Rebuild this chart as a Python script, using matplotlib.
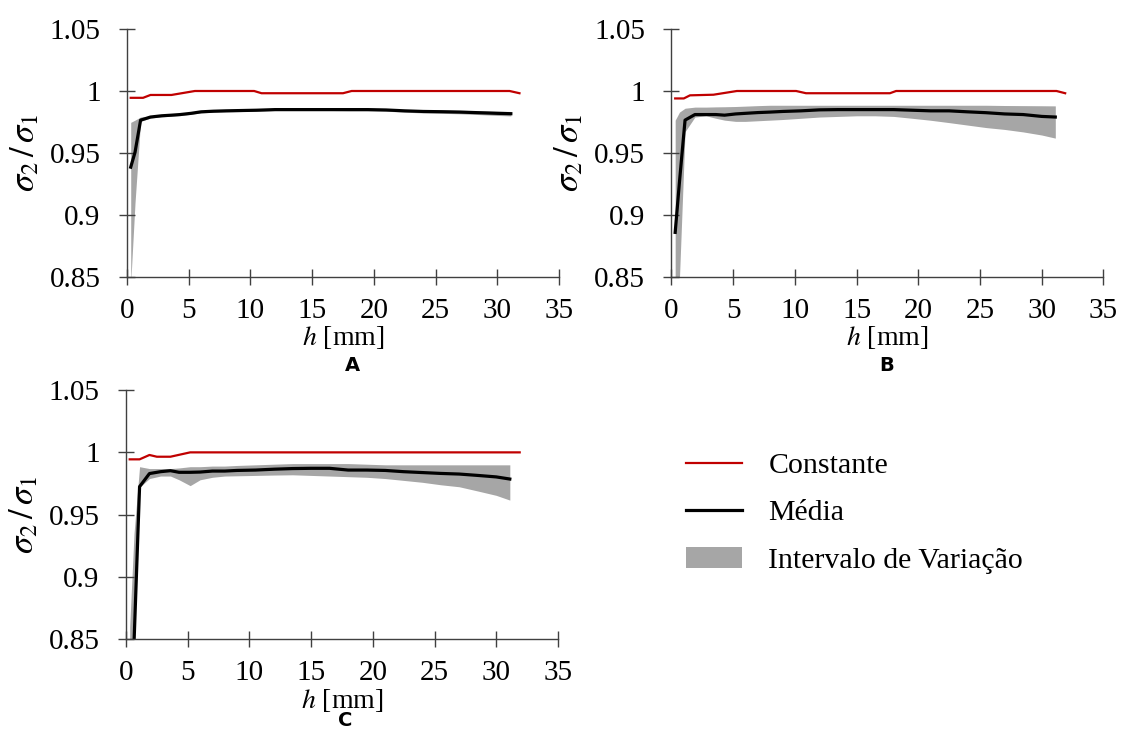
import numpy as np
import matplotlib
matplotlib.use('Agg')
import matplotlib.pyplot as plt

matplotlib.rcParams['font.family'] = 'serif'
matplotlib.rcParams['font.serif'] = ['Liberation Serif', 'DejaVu Serif']
matplotlib.rcParams['mathtext.fontset'] = 'stix'

# Common height grid for the mean curve and the variation band [mm]
h = [0.3, 0.65, 1.1, 1.9, 2.8, 3.6, 4.3, 5.2, 6.0, 7.0, 8.0, 9.0, 10.5, 12.0,
     13.5, 15.0, 16.5, 18.0, 19.5, 21.0, 22.5, 24.0, 25.5, 27.0, 28.5, 30.0, 31.1]

# Panel A
const_h_a = [0.3, 1.3, 1.9, 3.6, 5.5, 10.3, 10.9, 17.5, 18.2, 31.0, 31.8]
const_a = [0.9945, 0.9945, 0.9968, 0.9968, 1.0, 1.0, 0.9982, 0.9982, 1.0, 1.0, 0.9982]
mean_a = [0.9386, 0.9506, 0.9765, 0.9790, 0.9800, 0.9805, 0.9810, 0.9820, 0.9832,
          0.9837, 0.9840, 0.9842, 0.9845, 0.9850, 0.9850, 0.9850, 0.9850, 0.9850,
          0.9850, 0.9847, 0.9840, 0.9835, 0.9833, 0.9830, 0.9825, 0.9820, 0.9817]
upper_a = [0.9747, 0.9765, 0.9790, 0.9798, 0.9808, 0.9813, 0.9818, 0.9828, 0.9840,
           0.9845, 0.9848, 0.9850, 0.9853, 0.9858, 0.9858, 0.9858, 0.9858, 0.9858,
           0.9858, 0.9856, 0.9850, 0.9847, 0.9846, 0.9844, 0.9841, 0.9837, 0.9835]
lower_a = [0.8450, 0.9100, 0.9755, 0.9782, 0.9792, 0.9797, 0.9802, 0.9812, 0.9824,
           0.9829, 0.9832, 0.9834, 0.9837, 0.9842, 0.9842, 0.9842, 0.9842, 0.9840,
           0.9840, 0.9837, 0.9829, 0.9823, 0.9820, 0.9816, 0.9810, 0.9803, 0.9799]

# Panel B
const_h_b = [0.3, 1.0, 1.5, 3.4, 5.3, 10.1, 10.9, 17.7, 18.2, 31.2, 31.9]
const_b = [0.9940, 0.9940, 0.9965, 0.9970, 1.0, 1.0, 0.9982, 0.9982, 1.0, 1.0, 0.9982]
mean_b = [0.8860, 0.9270, 0.9765, 0.9810, 0.9810, 0.9810, 0.9805, 0.9815, 0.9820,
          0.9826, 0.9830, 0.9835, 0.9840, 0.9848, 0.9850, 0.9850, 0.9850, 0.9850,
          0.9845, 0.9840, 0.9840, 0.9832, 0.9825, 0.9815, 0.9810, 0.9795, 0.9790]
upper_b = [0.9765, 0.9830, 0.9861, 0.9870, 0.9870, 0.9872, 0.9873, 0.9875, 0.9878,
           0.9882, 0.9885, 0.9885, 0.9885, 0.9885, 0.9885, 0.9885, 0.9885, 0.9885,
           0.9885, 0.9885, 0.9885, 0.9885, 0.9885, 0.9883, 0.9882, 0.9881, 0.9880]
lower_b = [0.8000, 0.8500, 0.9672, 0.9790, 0.9800, 0.9780, 0.9765, 0.9755, 0.9755,
           0.9760, 0.9765, 0.9770, 0.9780, 0.9790, 0.9795, 0.9800, 0.9800, 0.9795,
           0.9780, 0.9764, 0.9745, 0.9725, 0.9705, 0.9690, 0.9670, 0.9645, 0.9620]

# Panel C
const_h_c = [0.3, 1.1, 1.9, 2.5, 3.6, 5.2, 31.9]
const_c = [0.9944, 0.9944, 0.9979, 0.9965, 0.9965, 1.0, 1.0]
mean_c = [0.7500, 0.8470, 0.9725, 0.9830, 0.9845, 0.9853, 0.9840, 0.9840, 0.9842,
          0.9850, 0.9850, 0.9855, 0.9858, 0.9865, 0.9870, 0.9872, 0.9872, 0.9858,
          0.9858, 0.9855, 0.9845, 0.9838, 0.9831, 0.9826, 0.9815, 0.9803, 0.9786]
upper_c = [0.8600, 0.9350, 0.9885, 0.9870, 0.9870, 0.9870, 0.9875, 0.9885, 0.9885,
           0.9890, 0.9890, 0.9895, 0.9900, 0.9905, 0.9910, 0.9910, 0.9910, 0.9910,
           0.9905, 0.9900, 0.9900, 0.9900, 0.9900, 0.9900, 0.9900, 0.9900, 0.9900]
lower_c = [0.7200, 0.8500, 0.9720, 0.9790, 0.9810, 0.9810, 0.9780, 0.9733, 0.9780,
           0.9800, 0.9810, 0.9812, 0.9815, 0.9818, 0.9820, 0.9815, 0.9810, 0.9805,
           0.9800, 0.9790, 0.9775, 0.9760, 0.9740, 0.9724, 0.9690, 0.9655, 0.9617]

x_ticks = [0, 5, 10, 15, 20, 25, 30, 35]
y_ticks = [0.85, 0.9, 0.95, 1.0, 1.05]
y_tick_labels = ['0.85', '0.9', '0.95', '1', '1.05']
labels = ['Constante', 'Média', 'Intervalo de Variação']

color_const = '#c00000'
color_mean = 'black'
color_band = '#a6a6a6'
color_axis = '#404040'
tick_size = 21


def draw_panel(ax, const_h, const, mean, upper, lower):
    band = ax.fill_between(h, lower, upper, color=color_band, lw=0, zorder=1)
    l_const, = ax.plot(const_h, const, color=color_const, lw=1.6, zorder=3)
    l_mean, = ax.plot(h, mean, color=color_mean, lw=2.3, zorder=2)

    ax.set_xlim(0, 35)
    ax.set_ylim(0.85, 1.05)
    ax.set_xticks(x_ticks)
    ax.set_yticks(y_ticks)
    ax.set_yticklabels(y_tick_labels)
    for side in ['top', 'right']:
        ax.spines[side].set_visible(False)
    for side in ['left', 'bottom']:
        ax.spines[side].set_color(color_axis)
        ax.spines[side].set_linewidth(1.0)
    ax.tick_params(axis='both', direction='inout', length=12, width=1.0,
                   color=color_axis, labelsize=tick_size)
    ax.tick_params(axis='y', pad=13)
    ax.tick_params(axis='x', pad=9)

    ax.set_xlabel(r'$h$ [mm]', fontsize=20)
    ax.set_ylabel(r'$\sigma_2\,/\,\sigma_1$', fontsize=25)
    ax.xaxis.set_label_coords(0.5, -0.19)
    ax.yaxis.set_label_coords(-0.197, 0.5)
    return l_const, l_mean, band


fig = plt.figure(figsize=(11.24, 7.34), dpi=100)

ax_a = fig.add_axes([0.1130, 0.6226, 0.3843, 0.3379])
ax_b = fig.add_axes([0.5974, 0.6226, 0.3843, 0.3379])
ax_c = fig.add_axes([0.1121, 0.1290, 0.3843, 0.3396])

draw_panel(ax_a, const_h_a, const_a, mean_a, upper_a, lower_a)
draw_panel(ax_b, const_h_b, const_b, mean_b, upper_b, lower_b)
handles = draw_panel(ax_c, const_h_c, const_c, mean_c, upper_c, lower_c)

# Panel letters under the x labels
for x, y, letter in [(352, 365, 'A'), (887, 365, 'B'), (345, 721, 'C')]:
    fig.text(x / 1124, 1 - y / 734, letter, fontsize=14, fontweight='bold',
             family='DejaVu Sans', ha='center', va='center')

fig.legend(handles, labels, loc='upper left', bbox_to_anchor=(0.600, 0.400),
           frameon=False, fontsize=21.5, handlelength=1.85, handletextpad=0.9,
           labelspacing=0.68, borderaxespad=0)

fig.savefig('out.png', dpi=100)
